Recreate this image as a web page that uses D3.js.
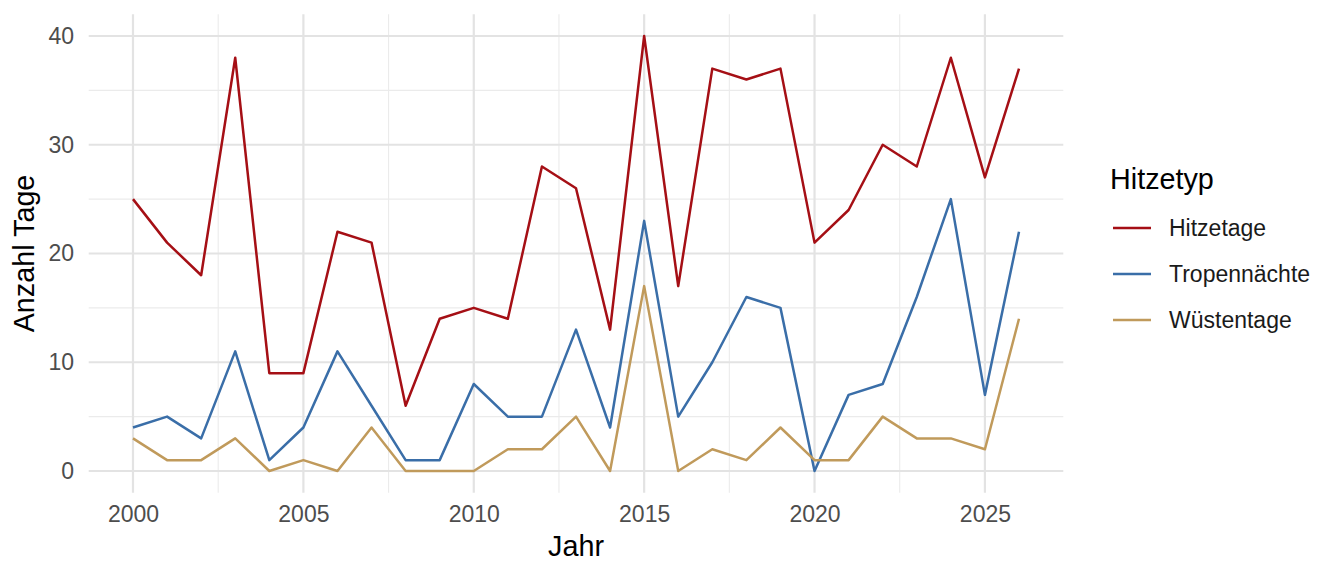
<!DOCTYPE html>
<html><head><meta charset="utf-8">
<script src="https://cdn.jsdelivr.net/npm/d3@7"></script>
<style>body{margin:0;background:#fff}svg{display:block}text{font-family:"Liberation Sans",Arial,sans-serif}</style>
</head><body><svg id="c" width="1344" height="576"></svg>
<script>
const years = d3.range(2000, 2027);
const hitzetage = [25,21,18,38,9,9,22,21,6,14,15,14,28,26,13,40,17,37,36,37,21,24,30,28,38,27,37];
const tropennaechte = [4,5,3,11,1,4,11,6,1,1,8,5,5,13,4,23,5,10,16,15,0,7,8,16,25,7,22];
const wuestentage = [3,1,1,3,0,1,0,4,0,0,0,2,2,5,0,17,0,2,1,4,1,1,5,3,3,2,14];
const seriesNames = ["Hitzetage","Tropennächte","Wüstentage"];
const seriesColors = ["#a50f15","#3a6ea8","#c09a5b"];
const xTicks = [2000,2005,2010,2015,2020,2025];
const yTicks = [0,10,20,30,40];

const svg = d3.select("#c");
const x = d3.scaleLinear().domain([1998.7, 2027.3]).range([88.7, 1063.3]);
const y = d3.scaleLinear().domain([-2, 42]).range([492.75, 14.25]);
const g = svg.append("g");

// grid
const xMinor = d3.range(1997.5, 2030, 5).filter(v => v > 1998.7 && v < 2027.3);
const yMinor = [5,15,25,35];
g.selectAll(".xm").data(xMinor).join("line").attr("x1",d=>x(d)).attr("x2",d=>x(d)).attr("y1",y(-2)).attr("y2",y(42)).attr("stroke","#ebebeb").attr("stroke-width",1.1);
g.selectAll(".ym").data(yMinor).join("line").attr("y1",d=>y(d)).attr("y2",d=>y(d)).attr("x1",x(1998.7)).attr("x2",x(2027.3)).attr("stroke","#ebebeb").attr("stroke-width",1.1);
g.selectAll(".xM").data(xTicks).join("line").attr("x1",d=>x(d)).attr("x2",d=>x(d)).attr("y1",y(-2)).attr("y2",y(42)).attr("stroke","#e3e3e3").attr("stroke-width",2.2);
g.selectAll(".yM").data(yTicks).join("line").attr("y1",d=>y(d)).attr("y2",d=>y(d)).attr("x1",x(1998.7)).attr("x2",x(2027.3)).attr("stroke","#e3e3e3").attr("stroke-width",2.2);

// axes labels
const xAxis = d3.axisBottom(x).tickValues(xTicks).tickFormat(d3.format("d")).tickSize(0).tickPadding(13);
const xa = svg.append("g").attr("transform",`translate(0,${y(-2)})`).call(xAxis);
xa.select(".domain").remove();
xa.selectAll("text").attr("font-size",23).attr("fill","#4d4d4d").attr("font-family","Liberation Sans, Arial, sans-serif");
const yAxis = d3.axisLeft(y).tickValues(yTicks).tickSize(0).tickPadding(14.7);
const ya = svg.append("g").attr("transform",`translate(${x(1998.7)},0)`).call(yAxis);
ya.select(".domain").remove();
ya.selectAll("text").attr("font-size",23).attr("fill","#4d4d4d").attr("font-family","Liberation Sans, Arial, sans-serif");

svg.append("text").attr("x",(x(1998.7)+x(2027.3))/2).attr("y",556).attr("text-anchor","middle").attr("font-size",28.75).attr("fill","#000").text("Jahr");
svg.append("text").attr("transform",`translate(34,${(y(-2)+y(42))/2}) rotate(-90)`).attr("text-anchor","middle").attr("font-size",28.75).attr("fill","#000").text("Anzahl Tage");

// lines
const data = [hitzetage, tropennaechte, wuestentage];
const line = d3.line().x((d,i)=>x(years[i])).y(d=>y(d));
svg.selectAll(".ln").data(data).join("path").attr("d",line).attr("fill","none").attr("stroke",(d,i)=>seriesColors[i]).attr("stroke-width",2.5).attr("stroke-linejoin","round");

// legend
const lg = svg.append("g");
lg.append("text").attr("x",1110).attr("y",189).attr("font-size",28.75).attr("fill","#000").text("Hitzetyp");
const items = lg.selectAll(".it").data(seriesNames).join("g").attr("transform",(d,i)=>`translate(0,${228+i*46})`);
items.append("line").attr("x1",1113).attr("x2",1151).attr("stroke",(d,i)=>seriesColors[i]).attr("stroke-width",2.5);
items.append("text").attr("x",1169).attr("y",8).attr("font-size",23).attr("fill","#1a1a1a").text(d=>d);
</script></body></html>
